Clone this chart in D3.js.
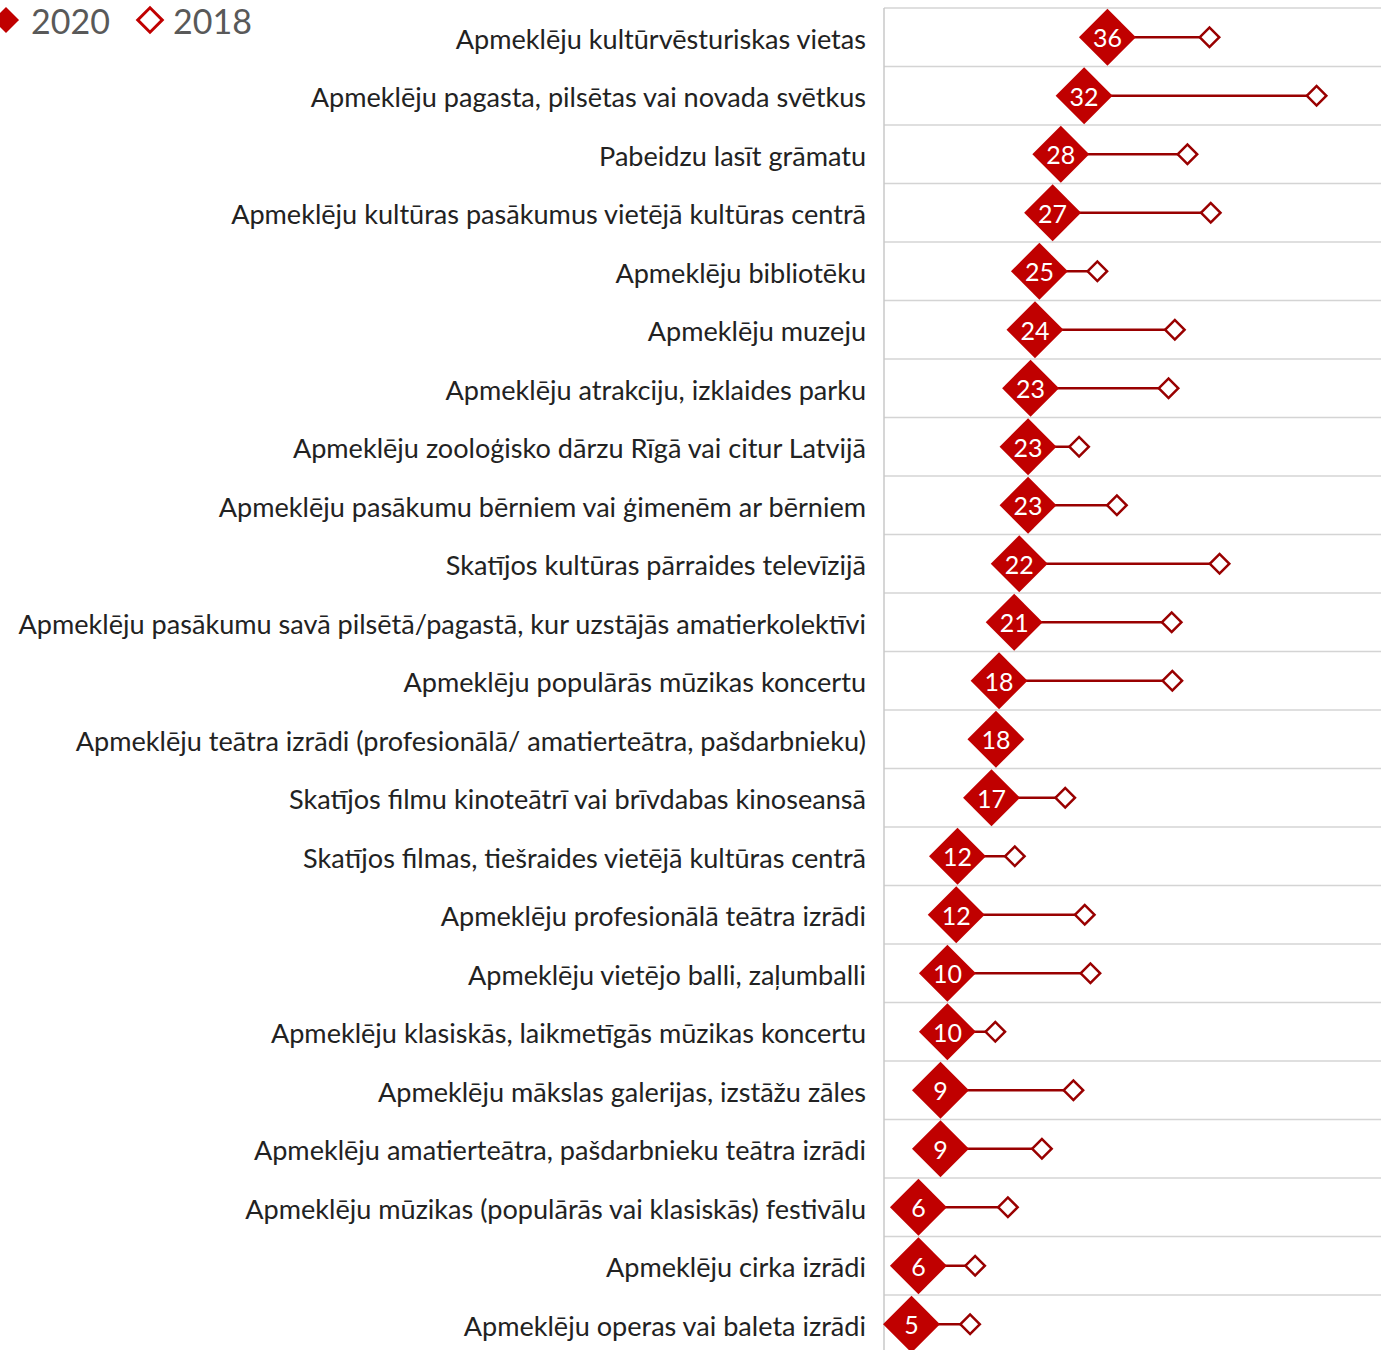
<!DOCTYPE html>
<html>
<head>
<meta charset="utf-8">
<script src="https://cdn.jsdelivr.net/npm/d3@7"></script>
<style>
  body { margin: 0; background: #fff; }
  svg { display: block; font-family: Lato, "Noto Sans", sans-serif; }
</style>
</head>
<body>
<div id="container"></div>
<script>
var categories = [
  "Apmeklēju kultūrvēsturiskas vietas",
  "Apmeklēju pagasta, pilsētas vai novada svētkus",
  "Pabeidzu lasīt grāmatu",
  "Apmeklēju kultūras pasākumus vietējā kultūras centrā",
  "Apmeklēju bibliotēku",
  "Apmeklēju muzeju",
  "Apmeklēju atrakciju, izklaides parku",
  "Apmeklēju zooloģisko dārzu Rīgā vai citur Latvijā",
  "Apmeklēju pasākumu bērniem vai ģimenēm ar bērniem",
  "Skatījos kultūras pārraides televīzijā",
  "Apmeklēju pasākumu savā pilsētā/pagastā, kur uzstājās amatierkolektīvi",
  "Apmeklēju populārās mūzikas koncertu",
  "Apmeklēju teātra izrādi (profesionālā/ amatierteātra, pašdarbnieku)",
  "Skatījos filmu kinoteātrī vai brīvdabas kinoseansā",
  "Skatījos filmas, tiešraides vietējā kultūras centrā",
  "Apmeklēju profesionālā teātra izrādi",
  "Apmeklēju vietējo balli, zaļumballi",
  "Apmeklēju klasiskās, laikmetīgās mūzikas koncertu",
  "Apmeklēju mākslas galerijas, izstāžu zāles",
  "Apmeklēju amatierteātra, pašdarbnieku teātra izrādi",
  "Apmeklēju mūzikas (populārās vai klasiskās) festivālu",
  "Apmeklēju cirka izrādi",
  "Apmeklēju operas vai baleta izrādi"
];
// 2020 survey, % (labels show the whole part)
var values2020 = [36.1, 32.4, 28.7, 27.4, 25.3, 24.6, 23.9, 23.5, 23.5, 22.1, 21.3, 18.9,
  18.4, 17.7, 12.3, 12.1, 10.7, 10.7, 9.6, 9.6, 6.1, 6.1, 5.0];
// 2018 survey, % (no 2018 value for the theatre row)
var values2018 = [52.3, 69.3, 48.8, 52.5, 34.5, 46.8, 45.8, 31.6, 37.6, 53.9, 46.3, 46.4,
  null, 29.4, 21.4, 32.5, 33.4, 18.3, 30.7, 25.7, 20.3, 15.1, 14.3];
var seriesNames = ["2020", "2018"];

var W = 1381, H = 1350;
var plotLeft = 884, plotRight = 1381, plotTop = 8, plotBottom = 1353.5;
var red = "#c00000", darkRed = "#990000";

var rows = categories.map(function (c, i) {
  return { name: c, v20: values2020[i], v18: values2018[i] };
});

var svg = d3.select("#container").append("svg").attr("width", W).attr("height", H);

var x = d3.scaleLinear().domain([0, 80]).range([880, 1384]);
var y = d3.scaleBand().domain(categories).range([plotTop, plotBottom]);

// gridlines between rows
var bounds = categories.map(function (c) { return y(c); }).concat([plotBottom]);
svg.append("g").selectAll("line").data(bounds).enter().append("line")
  .attr("x1", plotLeft).attr("x2", plotRight)
  .attr("y1", function (d) { return d; }).attr("y2", function (d) { return d; })
  .attr("stroke", "#d4d4d4").attr("stroke-width", 1.5);

svg.append("line")
  .attr("x1", plotLeft).attr("x2", plotLeft)
  .attr("y1", plotTop).attr("y2", H)
  .attr("stroke", "#c8c8c8").attr("stroke-width", 1.5);

// category labels, sized so the longest one fills the label column
var labels = svg.append("g").selectAll("text").data(rows).enter().append("text")
  .attr("x", 866)
  .attr("y", function (d) { return y(d.name) + y.bandwidth() / 2 + 2; })
  .attr("dy", "0.35em")
  .attr("text-anchor", "end")
  .attr("fill", "#222")
  .style("font-size", "24px")
  .text(function (d) { return d.name; });
var widest = d3.max(labels.nodes(), function (n) { return n.getComputedTextLength(); });
labels.style("font-size", (24 * 848 / widest) + "px");

var cy = function (d) { return y(d.name) + y.bandwidth() / 2; };

// connectors
var marks = svg.append("g");
marks.selectAll("line.conn").data(rows.filter(function (d) { return d.v18 != null; }))
  .enter().append("line")
  .attr("class", "conn")
  .attr("x1", function (d) { return x(d.v20); })
  .attr("x2", function (d) { return x(d.v18); })
  .attr("y1", cy).attr("y2", cy)
  .attr("stroke", darkRed).attr("stroke-width", 2.5);

var bigDiamond = d3.symbol(d3.symbolSquare, 1620);
var smallDiamond = d3.symbol(d3.symbolSquare, 190);

marks.selectAll("path.p18").data(rows.filter(function (d) { return d.v18 != null; }))
  .enter().append("path")
  .attr("class", "p18")
  .attr("d", smallDiamond)
  .attr("transform", function (d) { return "translate(" + x(d.v18) + "," + cy(d) + ") rotate(45)"; })
  .attr("fill", "#fff").attr("stroke", darkRed).attr("stroke-width", 2.5);

marks.selectAll("path.p20").data(rows).enter().append("path")
  .attr("class", "p20")
  .attr("d", bigDiamond)
  .attr("transform", function (d) { return "translate(" + x(d.v20) + "," + cy(d) + ") rotate(45)"; })
  .attr("fill", red);

marks.selectAll("text.val").data(rows).enter().append("text")
  .attr("class", "val")
  .attr("x", function (d) { return x(d.v20); })
  .attr("y", function (d) { return cy(d) + 1; })
  .attr("dy", "0.35em")
  .attr("text-anchor", "middle")
  .attr("fill", "#fff")
  .style("font-size", "25px")
  .text(function (d) { return Math.floor(d.v20); });

// legend
var legend = svg.append("g");
legend.append("path")
  .attr("d", d3.symbol(d3.symbolSquare, 340))
  .attr("transform", "translate(6,20) rotate(45)")
  .attr("fill", red);
legend.append("text").attr("x", 31).attr("y", 34)
  .attr("fill", "#595959").style("font-size", "34px").text(seriesNames[0]);
legend.append("path")
  .attr("d", d3.symbol(d3.symbolSquare, 300))
  .attr("transform", "translate(150,20) rotate(45)")
  .attr("fill", "#fff").attr("stroke", red).attr("stroke-width", 3);
legend.append("text").attr("x", 173).attr("y", 34)
  .attr("fill", "#595959").style("font-size", "34px").text(seriesNames[1]);
</script>
</body>
</html>
